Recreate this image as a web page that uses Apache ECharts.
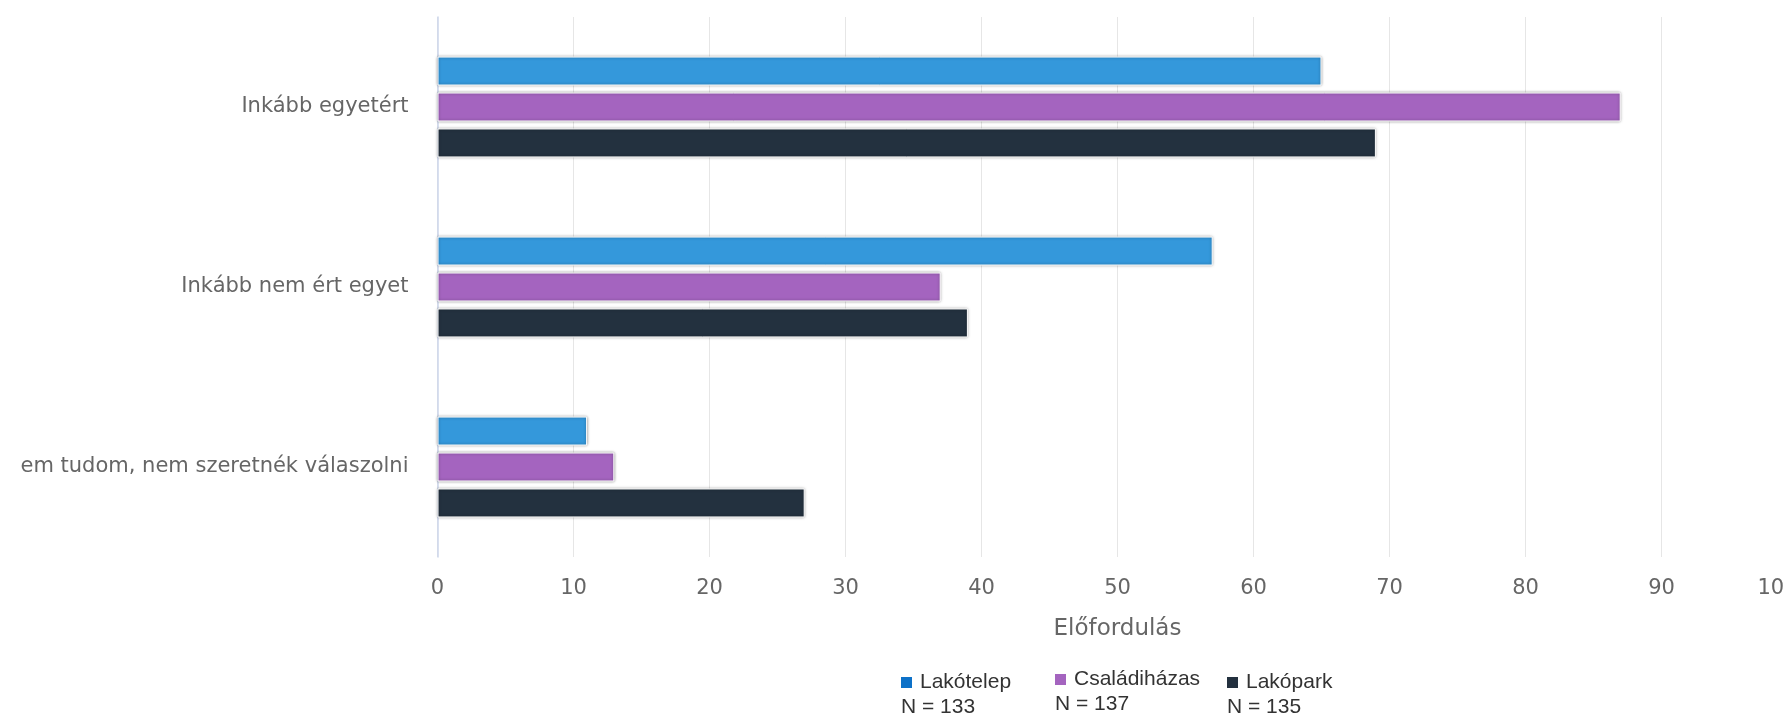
<!DOCTYPE html>
<html>
<head>
<meta charset="utf-8">
<script src="https://cdn.jsdelivr.net/npm/echarts@6/dist/echarts.min.js"></script>
<style>
html,body{margin:0;padding:0;background:#fff;overflow:hidden;width:1784px;height:715px;}
#chart{position:absolute;left:20px;top:0;width:1764px;height:715px;}
</style>
</head>
<body>
<div id="chart"></div>
<script>
const categories = ['Inkább egyetért', 'Inkább nem ért egyet', 'Nem tudom, nem szeretnék válaszolni'];
const seriesNames = ['Lakótelep', 'Családiházas', 'Lakópark'];
const lakotelep = [65, 57, 11];
const csaladihazas = [87, 37, 13];
const lakopark = [69, 39, 27];
const sampleSizes = [133, 137, 135];
const axisTitle = 'Előfordulás';

const barColors = ['#3498db', '#a464bf', '#23313f'];
const legendColors = ['#0d71c8', '#a464bf', '#23313f'];
const legendLeft = [875, 1029, 1201];
const legendTop = [670, 667, 670];
const values = [lakotelep, csaladihazas, lakopark];

const chart = echarts.init(document.getElementById('chart'));

const legends = seriesNames.map((name, i) => ({
  data: [name],
  left: legendLeft[i],
  top: legendTop[i],
  padding: 0,
  itemWidth: 0,
  itemHeight: 0,
  icon: 'rect',
  formatter: n => '{sq|}{gap|}' + n + '\nN = ' + sampleSizes[i],
  textStyle: {
    fontFamily: 'Liberation Sans, Arial, sans-serif',
    fontSize: 21,
    color: '#333333',
    lineHeight: 25,
    rich: {
      sq: { width: 11, height: 11, backgroundColor: legendColors[i], verticalAlign: 'middle' },
      gap: { width: 8, height: 11 }
    }
  }
}));

const series = seriesNames.map((name, i) => ({
  name: name,
  type: 'bar',
  data: values[i],
  barWidth: 29,
  barGap: '24%',
  itemStyle: {
    color: barColors[i],
    borderColor: '#ffffff',
    borderWidth: 1,
    shadowBlur: 3,
    shadowColor: 'rgba(0,0,0,0.4)'
  },
  emphasis: { disabled: true }
}));

chart.setOption({
  animation: false,
  color: barColors,
  legend: legends,
  grid: {
    left: 417.5,
    right: -13.5,
    top: 17,
    bottom: 158,
    containLabel: false,
    outerBoundsMode: 'none'
  },
  xAxis: {
    type: 'value',
    min: 0,
    max: 100,
    interval: 10,
    name: axisTitle,
    nameLocation: 'middle',
    nameGap: 61,
    nameTextStyle: { fontFamily: 'DejaVu Sans, sans-serif', fontSize: 23, color: '#666666' },
    axisLine: { show: false },
    axisTick: { show: false },
    axisLabel: { margin: 21, fontFamily: 'DejaVu Sans, sans-serif', fontSize: 21, color: '#666666', alignMaxLabel: 'right' },
    splitLine: { show: true, lineStyle: { color: '#e6e6e6', width: 1 } }
  },
  yAxis: {
    type: 'category',
    data: categories,
    inverse: true,
    axisLine: { show: true, lineStyle: { color: '#ccd6eb', width: 1.5 } },
    axisTick: { show: false },
    axisLabel: { margin: 29, fontFamily: 'DejaVu Sans, sans-serif', fontSize: 21, color: '#666666' },
    splitLine: { show: false }
  },
  series: series
});
</script>
</body>
</html>
